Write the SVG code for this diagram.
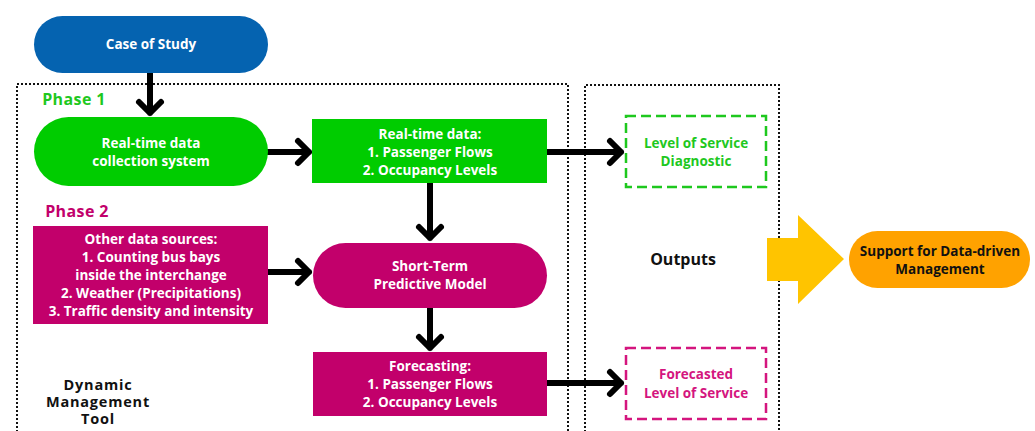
<svg xmlns="http://www.w3.org/2000/svg" width="1035" height="431" viewBox="0 0 1035 431">
  <style>
    text { font-family: "Open Sans", "Liberation Sans", sans-serif; font-weight: 700; text-anchor: middle; dominant-baseline: central; }
    .w { fill: #ffffff; font-size: 13.5px; }
    .k { fill: #111111; font-size: 13.5px; }
    .big { fill: #111111; font-size: 16px; }
    .tool { fill: #111111; font-size: 14.5px; letter-spacing: 0.8px; }
    .frame { fill: none; stroke: #111111; stroke-width: 2; stroke-dasharray: 2 2; }
    .arrow { fill: none; stroke: #000000; stroke-width: 6; stroke-linecap: round; stroke-linejoin: round; }
    .blue { fill: #0563b0; }
    .green { fill: #00cc00; }
    .mag { fill: #c2006b; }
  </style>
  <rect width="1035" height="431" fill="#ffffff"/>

  <!-- dotted frames -->
  <g id="frames">
    <path class="frame" d="M17 436 V84 H568 V436"/>
    <path class="frame" d="M585 436 V85 H779 V436"/>
  </g>

  <!-- section labels -->
  <g id="labels">
    <text x="74" y="99" style="fill:#1ec81e;font-size:16px;letter-spacing:0.4px;">Phase 1</text>
    <text x="77" y="211" style="fill:#c2006b;font-size:16px;letter-spacing:0.4px;">Phase 2</text>
    <text class="big" x="683" y="259">Outputs</text>
    <text class="tool" x="98" y="384">Dynamic</text>
    <text class="tool" x="98" y="401">Management</text>
    <text class="tool" x="98" y="418">Tool</text>
  </g>

  <!-- connectors -->
  <g id="connectors">
    <path class="arrow" d="M150 73 V113 M139 102 L150 113 L161 102"/>
    <path class="arrow" d="M268 152 H309 M298 141 L309 152 L298 163"/>
    <path class="arrow" d="M430 183 V238 M419 227 L430 238 L441 227"/>
    <path class="arrow" d="M547 152 H621 M610 141 L621 152 L610 163"/>
    <path class="arrow" d="M268 272 H309 M298 261 L309 272 L298 283"/>
    <path class="arrow" d="M430 308 V348 M419 337 L430 348 L441 337"/>
    <path class="arrow" d="M547 383 H621 M610 372 L621 383 L610 394"/>
    <polygon id="bigArrow" points="767,238 798,238 798,215 844,259 798,304 798,281 767,281" fill="#ffc400"/>
  </g>

  <g id="caseOfStudy">
    <rect class="blue" x="34" y="16" width="234" height="57" rx="28.5"/>
    <text class="w" x="151" y="44">Case of Study</text>
  </g>

  <g id="collectionSystem">
    <rect class="green" x="34" y="117" width="234" height="69" rx="34.5"/>
    <text class="w" x="151" y="143">Real-time data</text>
    <text class="w" x="151" y="161">collection system</text>
  </g>

  <g id="realTimeData">
    <rect class="green" x="312" y="119" width="235" height="64"/>
    <text class="w" x="430" y="134">Real-time data:</text>
    <text class="w" x="430" y="152">1. Passenger Flows</text>
    <text class="w" x="430" y="170">2. Occupancy Levels</text>
  </g>

  <g id="losDiagnostic">
    <rect x="626" y="116" width="140" height="71" fill="none" stroke="#1ec81e" stroke-width="2.5" stroke-dasharray="10 5"/>
    <text x="696" y="143" style="fill:#1ec81e;font-size:13.5px;">Level of Service</text>
    <text x="696" y="161" style="fill:#1ec81e;font-size:13.5px;">Diagnostic</text>
  </g>

  <g id="otherSources">
    <rect class="mag" x="33" y="226" width="235" height="98"/>
    <text class="w" x="151" y="239">Other data sources:</text>
    <text class="w" x="151" y="257">1. Counting bus bays</text>
    <text class="w" x="151" y="275">inside the interchange</text>
    <text class="w" x="151" y="293">2. Weather (Precipitations)</text>
    <text class="w" x="151" y="311">3. Traffic density and intensity</text>
  </g>

  <g id="predictiveModel">
    <rect class="mag" x="313" y="243" width="234" height="65" rx="32.5"/>
    <text class="w" x="430" y="266">Short-Term</text>
    <text class="w" x="430" y="284">Predictive Model</text>
  </g>

  <g id="forecasting">
    <rect class="mag" x="313" y="352" width="234" height="64"/>
    <text class="w" x="430" y="366">Forecasting:</text>
    <text class="w" x="430" y="384">1. Passenger Flows</text>
    <text class="w" x="430" y="402">2. Occupancy Levels</text>
  </g>

  <g id="forecastedLos">
    <rect x="626" y="348" width="140" height="71" fill="none" stroke="#d4157e" stroke-width="2.5" stroke-dasharray="10 5"/>
    <text x="696" y="374" style="fill:#d4157e;font-size:13.5px;">Forecasted</text>
    <text x="696" y="393" style="fill:#d4157e;font-size:13.5px;">Level of Service</text>
  </g>

  <g id="supportManagement">
    <rect x="849" y="231" width="181" height="57" rx="28.5" fill="#ffa200"/>
    <text class="k" x="940" y="251">Support for Data-driven</text>
    <text class="k" x="940" y="269">Management</text>
  </g>
</svg>
